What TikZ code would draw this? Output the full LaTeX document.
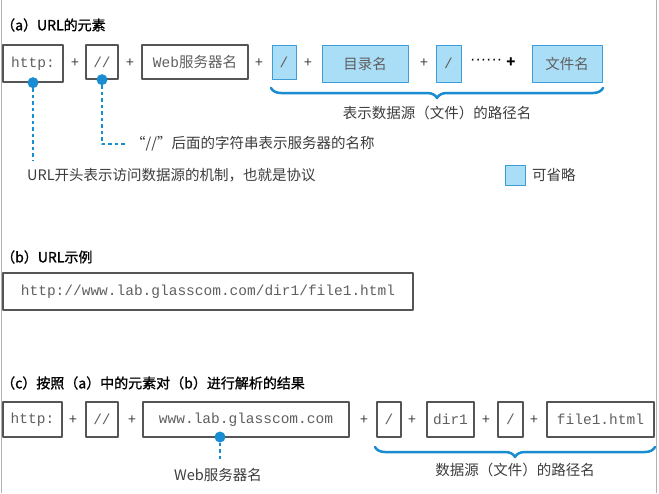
\documentclass[tikz,border=0pt]{standalone}
\usepackage{fontspec}
\setmainfont{Noto Sans CJK SC}
\setmonofont{Liberation Mono}
\newfontfamily\titlefont[FakeBold=1.2]{Noto Sans CJK SC}
\newfontfamily\dotsfont{Liberation Sans}
\usetikzlibrary{decorations.pathreplacing}

\definecolor{lineblue}{RGB}{25,140,210}
\definecolor{boxblue}{RGB}{170,222,246}
\definecolor{boxedge}{RGB}{85,85,85}
\definecolor{textgray}{RGB}{60,60,60}
\definecolor{monogray}{RGB}{95,95,95}

\tikzset{
  part/.style={draw=boxedge, line width=1.3pt, inner sep=0pt, minimum height=34pt, font=\fontsize{14.5}{14}\ttfamily, text=monogray},
  optional/.style={part, draw=lineblue!85, fill=boxblue, line width=1pt},
  plus/.style={font=\fontsize{14}{14}\selectfont, text=textgray, inner sep=0pt},
  note/.style={font=\fontsize{14.5}{16}\selectfont, text=textgray, inner sep=0pt},
  title/.style={font=\fontsize{14}{16}\titlefont, anchor=west, inner sep=0pt},
  dot/.style={circle, fill=lineblue, inner sep=0pt, minimum size=11pt},
  leader/.style={lineblue, line width=2.8pt, dash pattern=on 3.5pt off 3pt},
  pathbrace/.style={lineblue, line width=2.5pt, line cap=round, decorate, decoration={brace, mirror, amplitude=10pt}},
}

\begin{document}
\begin{tikzpicture}[x=1pt, y=-1pt, line join=round]
    \useasboundingbox (0,0) rectangle (659,493);
    \draw [gray!60, line width=1pt] (1.5,0) -- (1.5,493);
    \draw [gray!60, line width=1pt] (656,0) -- (656,493);

    % (a) elements of a URL
    \node[title] (atitle) at (1,25) {（a）URL的元素};
    \node[part, minimum width=60pt, minimum height=37pt] (ahttp) at (33,63.5) {http:};
    \node[plus] at (75,63) {+};
    \node[part, minimum width=32pt] (aslash) at (102,62) {//};
    \node[plus] at (130,63) {+};
    \node[part, minimum width=106pt] (aweb) at (195,62) {Web\rmfamily 服务器名};
    \node[plus] at (259,63) {+};
    \node[optional, minimum width=24pt] (adirsep) at (284,62) {/};
    \node[plus] at (308,63) {+};
    \node[optional, minimum width=86pt, minimum height=37pt] (adir) at (365,63.5) {\rmfamily 目录名};
    \node[plus] at (424,63) {+};
    \node[optional, minimum width=25pt, minimum height=37pt] (asep) at (448.5,63.5) {/};
    \node[plus, anchor=west, text=black, font=\fontsize{16}{16}\dotsfont] (adots) at (470,62) {······};
    \node[plus, text=black, font=\fontsize{15}{15}\bfseries] at (511,63) {+};
    \node[optional, minimum width=70pt, minimum height=37pt] (afile) at (567,63.5) {\rmfamily 文件名};

    \draw [pathbrace] (271,88) -- (603,88);
    \node[note] (apath) at (437,113) {表示数据源（文件）的路径名};

    \node[dot] (ahttpdot) at (ahttp.south) {};
    \coordinate (ahttpend) at (33,160);
    \draw [leader] (ahttpdot) -- (ahttpend);
    \node[note, anchor=west] (aproto) at (27,175) {URL开头表示访问数据源的机制，也就是协议};

    \node[dot] (aslashdot) at (aslash.south) {};
    \coordinate (aslashend) at (126,144);
    \draw [leader] (aslashdot) |- (aslashend);
    \node[note, anchor=west] (aserver) at (131,144) {“//”后面的字符串表示服务器的名称};

    \node[optional, minimum width=20pt, minimum height=20pt] (legend) at (515,175) {};
    \node[note, anchor=west] (legendtext) at (532,175) {可省略};

    % (b) example URL
    \node[title] (btitle) at (1,257) {（b）URL示例};
    \node[part, minimum width=410pt, minimum height=37pt] (burl) at (208,291.5) {http://www.lab.glasscom.com/dir1/file1.html};

    % (c) the example split by the elements
    \node[title] (ctitle) at (1,383) {（c）按照（a）中的元素对（b）进行解析的结果};
    \node[part, minimum width=59pt, minimum height=35pt] (chttp) at (32.5,419.5) {http:};
    \node[plus] at (73,420) {+};
    \node[part, minimum width=32pt, minimum height=35pt] (cslash) at (102,419.5) {//};
    \node[plus] at (132,420) {+};
    \node[part, minimum width=206pt, minimum height=35pt] (cwww) at (246,419.5) {www.lab.glasscom.com};
    \node[plus] at (364,420) {+};
    \node[part, minimum width=24pt, minimum height=35pt] (csep) at (389,419.5) {/};
    \node[plus] at (412,420) {+};
    \node[part, minimum width=47pt, minimum height=35pt] (cdir) at (450.5,419.5) {dir1};
    \node[plus] at (486,420) {+};
    \node[part, minimum width=25pt, minimum height=35pt] (csepb) at (510.5,419.5) {/};
    \node[plus] at (534,420) {+};
    \node[part, minimum width=107pt, minimum height=35pt] (cfile) at (600.5,419.5) {file1.html};

    \node[dot] (cwwwdot) at (220,437) {};
    \coordinate (cwwwend) at (220,460);
    \draw [leader] (cwwwdot) -- (cwwwend);
    \node[note] (cserver) at (218,475) {Web服务器名};

    \draw [pathbrace] (375,447) -- (655,447);
    \node[note] (cpath) at (515,470) {数据源（文件）的路径名};
\end{tikzpicture}
\end{document}
